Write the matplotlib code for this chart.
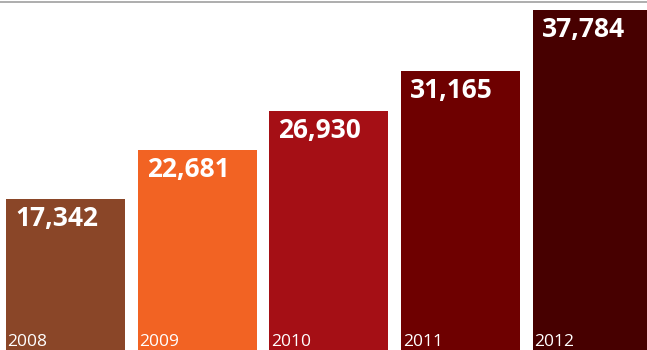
import matplotlib
matplotlib.use("Agg")
import matplotlib.pyplot as plt
from matplotlib.lines import Line2D

years = ["2008", "2009", "2010", "2011", "2012"]
values = [17342, 22681, 26930, 31165, 37784]
colors = ["#8A4628", "#F26323", "#A50F15", "#6E0000", "#470000"]

W, H = 647, 350
fig = plt.figure(figsize=(W / 100, H / 100), dpi=100)

# axes extend slightly below the canvas so the baseline sits off-image
base_px = 360.4
ymax = 38841
ax = fig.add_axes([0, (H - base_px) / H, 1, base_px / H])
ax.set_xlim(-0.497, 4.414)
ax.set_ylim(0, ymax)
ax.axis("off")

x = list(range(len(years)))
bar_w = 119 / 131.75
ax.bar(x, values, width=bar_w, color=colors, linewidth=0)

px_per_x = 131.75
for i, (yr, v) in enumerate(zip(years, values)):
    left = i - bar_w / 2
    ax.annotate(f"{v:,}", xy=(left, v), xytext=(9, -6),
                textcoords="offset pixels", ha="left", va="top",
                color="white", fontsize=19, fontweight="bold",
                family="Open Sans")
    fig.text((65.5 + px_per_x * i - 59.5 + 1.5) / W, 4 / H, yr,
             ha="left", va="baseline", color="white", fontsize=12.5,
             family="Open Sans")

fig.add_artist(Line2D([0, 1], [1 - 1.5 / H, 1 - 1.5 / H],
                      transform=fig.transFigure, color="#A0A0A0", lw=1.2))

fig.savefig("out.png", dpi=100)
